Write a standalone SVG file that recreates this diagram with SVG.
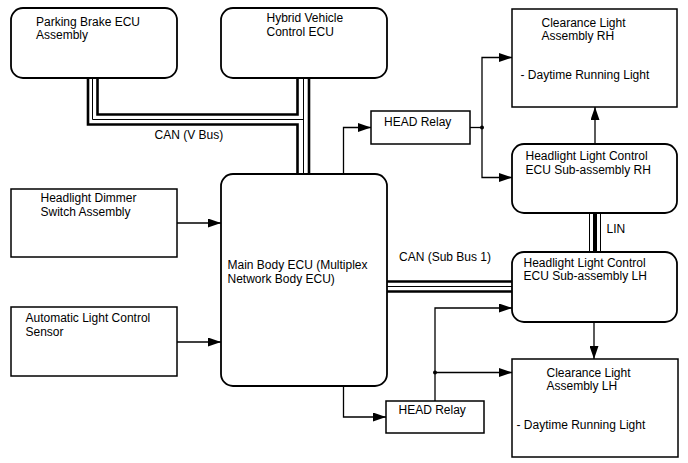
<svg xmlns="http://www.w3.org/2000/svg" width="688" height="463" viewBox="0 0 688 463">
<style>
  .box { fill: #fff; stroke: #000; stroke-width: 1.5; }
  .rbox { fill: #fff; stroke: #000; stroke-width: 1.8; }
  text { font-family: "Liberation Sans", Arial, sans-serif; font-size: 12px; fill: #000; }
  .wire { fill: none; stroke: #000; stroke-width: 1.3; }
  .bthick { fill: none; stroke: #000; stroke-width: 2.6; stroke-linejoin: miter; }
  .bthin { fill: none; stroke: #000; stroke-width: 1; }
</style>
<defs>
  <marker id="arr" markerUnits="userSpaceOnUse" markerWidth="13" markerHeight="9" refX="13" refY="4.5" orient="auto">
    <path d="M0,0 L13,4.5 L0,9 z" fill="#000"/>
  </marker>
</defs>
<rect width="688" height="463" fill="#fff"/>

<g id="connectors">
  <!-- CAN V Bus -->
  <path class="bthick" d="M97.5,78 V114.5 H297.5 V78"/>
  <path class="bthin" d="M92.5,78 V119.5 H303.5"/>
  <path class="bthick" d="M88,78 V124.5 H297.5 V174"/>
  <path class="bthin" d="M303.5,78 V174"/>
  <path class="bthick" d="M309,78 V174"/>
  <!-- CAN Sub Bus 1 -->
  <path class="bthick" d="M387,281.5 H512"/>
  <path class="bthin" d="M387,286.5 H512"/>
  <path class="bthick" d="M387,291.5 H512"/>
  <!-- LIN -->
  <path class="bthin" d="M589.5,213 V252"/>
  <path class="bthick" d="M595,213 V252" style="stroke-width:4"/>
  <path class="bthin" d="M600.5,213 V252"/>
  <!-- wires -->
  <path class="wire" d="M343.5,174 V127.5 H371" marker-end="url(#arr)"/>
  <path class="wire" d="M470,127.5 H482"/>
  <path class="wire" d="M482,127.5 V57.5 H512" marker-end="url(#arr)"/>
  <path class="wire" d="M482,127.5 V177.5 H512" marker-end="url(#arr)"/>
  <circle cx="482" cy="127.5" r="2" fill="#000"/>
  <path class="wire" d="M595,144 V107" marker-end="url(#arr)"/>
  <path class="wire" d="M177,223 H221" marker-end="url(#arr)"/>
  <path class="wire" d="M177,342 H221" marker-end="url(#arr)"/>
  <path class="wire" d="M343.5,386 V417 H386" marker-end="url(#arr)"/>
  <path class="wire" d="M435,401 V308 H512" marker-end="url(#arr)"/>
  <path class="wire" d="M435,372.5 H512" marker-end="url(#arr)"/>
  <circle cx="435" cy="372.5" r="2" fill="#000"/>
  <path class="wire" d="M594,322 V359" marker-end="url(#arr)"/>
  <text x="154.5" y="139">CAN (V Bus)</text>
  <text x="399" y="260.5">CAN (Sub Bus 1)</text>
  <text x="606.5" y="232.5">LIN</text>
</g>

<g id="parking-brake">
  <rect class="rbox" x="11" y="8" width="166" height="70" rx="12"/>
  <text x="36" y="25.5">Parking Brake ECU</text>
  <text x="36" y="39">Assembly</text>
</g>
<g id="hybrid-vehicle">
  <rect class="rbox" x="221" y="8" width="166" height="70" rx="12"/>
  <text x="266.5" y="21.5">Hybrid Vehicle</text>
  <text x="266.5" y="35.5">Control ECU</text>
</g>
<g id="clearance-rh">
  <rect class="box" x="512" y="9" width="165" height="98"/>
  <text x="541.5" y="26.5">Clearance Light</text>
  <text x="541.5" y="39.5">Assembly RH</text>
  <text x="520.5" y="79">- Daytime Running Light</text>
</g>
<g id="head-relay-top">
  <rect class="box" x="371" y="111" width="99" height="33"/>
  <text x="384" y="125.5">HEAD Relay</text>
</g>
<g id="headlight-rh">
  <rect class="rbox" x="512" y="144" width="165" height="69" rx="12"/>
  <text x="525.5" y="160">Headlight Light Control</text>
  <text x="525.5" y="173.5">ECU Sub-assembly RH</text>
</g>
<g id="dimmer-switch">
  <rect class="box" x="11" y="189" width="166" height="68"/>
  <text x="40.5" y="202">Headlight Dimmer</text>
  <text x="40.5" y="216">Switch Assembly</text>
</g>
<g id="main-body-ecu">
  <rect class="rbox" x="221" y="174" width="166" height="212" rx="12"/>
  <text x="227.5" y="269">Main Body ECU (Multiplex</text>
  <text x="227.5" y="282.5">Network Body ECU)</text>
</g>
<g id="auto-light-sensor">
  <rect class="box" x="11" y="307" width="166" height="69"/>
  <text x="25.5" y="321.5">Automatic Light Control</text>
  <text x="25.5" y="335.5">Sensor</text>
</g>
<g id="headlight-lh">
  <rect class="rbox" x="512" y="252" width="165" height="70" rx="12"/>
  <text x="523.5" y="266.5">Headlight Light Control</text>
  <text x="523.5" y="280">ECU Sub-assembly LH</text>
</g>
<g id="clearance-lh">
  <rect class="box" x="512" y="359" width="166" height="98"/>
  <text x="546.5" y="376.5">Clearance Light</text>
  <text x="546.5" y="389.5">Assembly LH</text>
  <text x="516.5" y="429">- Daytime Running Light</text>
</g>
<g id="head-relay-bottom">
  <rect class="box" x="386" y="401" width="98" height="32"/>
  <text x="398.5" y="414">HEAD Relay</text>
</g>
</svg>
